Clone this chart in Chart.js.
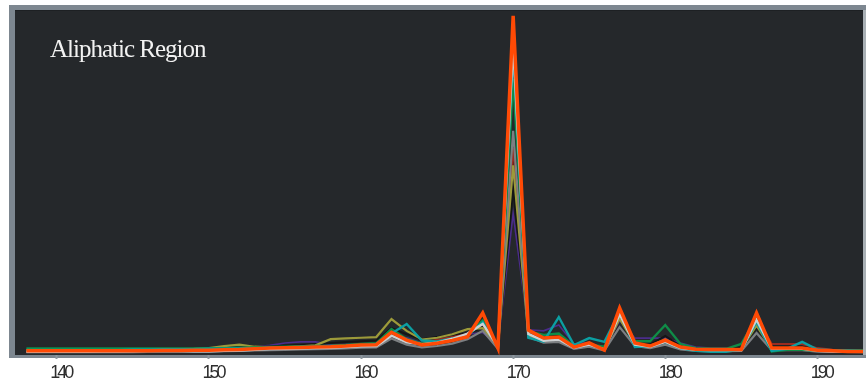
<!DOCTYPE html>
<html>
<head>
<meta charset="utf-8">
<script src="https://cdn.jsdelivr.net/npm/chart.js@4.4.1/dist/chart.umd.min.js"></script>
<style>
  html, body { margin: 0; padding: 0; background: #ffffff; }
  #wrap { width: 866px; height: 382px; position: relative; }
</style>
</head>
<body>
<div id="wrap"><canvas id="c" width="866" height="382"></canvas></div>
<script>
// x positions (ppm) of the sampled points
const shifts = [138,139,140,141,142,143,144,145,146,147,
                148,149,150,151,152,153,154,155,156,157,
                158,159,160,161,162,163,164,165,166,167,
                168,169,170,171,172,173,174,175,176,177,
                178,179,180,181,182,183,184,185,186,187,
                188,189,190,191,192,193];
const xTicks = [140, 150, 160, 170, 180, 190];
const regionLabel = "Aliphatic Region";

const seriesOrange = [1.2,1.2,1.2,1.2,1.2,1.2,1.2,1.2,1.2,1.3,
  1.3,1.4,1.4,1.5,1.6,1.8,2.0,2.1,2.2,2.3,
  2.4,2.6,2.9,3.0,6.6,4.3,2.9,3.4,4.2,5.3,
  12.2,2.0,98.3,7.2,4.9,5.2,2.3,3.5,1.4,13.6,
  3.5,2.6,4.3,2.3,1.7,1.6,1.6,1.6,12.2,2.0,
  2.0,2.0,1.4,1.2,1.0,1.0];
const seriesLightGray = [0.9,0.9,0.9,0.9,0.9,1.0,1.0,1.1,1.2,1.3,
  1.2,1.1,1.1,1.2,1.3,1.5,1.7,1.8,1.9,2.0,
  2.1,2.3,2.5,2.6,5.6,3.7,3.1,3.6,4.7,6.2,
  9.0,2.4,90.0,6.1,4.1,4.5,2.1,3.0,1.6,11.8,
  3.0,2.4,3.8,2.0,1.5,1.4,1.4,1.4,10.2,1.8,
  1.8,1.8,1.2,1.0,1.0,0.9];
const seriesTeal = [1.5,1.5,1.5,1.5,1.5,1.5,1.5,1.6,1.6,1.7,
  1.7,1.7,1.8,1.8,1.9,2.0,2.1,2.2,2.3,2.4,
  2.5,2.6,2.8,3.2,6.2,9.0,4.2,3.9,4.8,5.6,
  9.5,2.2,88.0,5.0,3.9,11.0,2.9,4.9,3.8,12.5,
  2.3,2.6,3.8,2.0,1.2,0.9,0.9,1.6,9.6,1.2,
  1.8,3.8,1.6,1.4,1.3,1.2];
const seriesGreen = [1.9,1.9,1.9,1.9,1.9,1.9,1.9,1.9,1.9,1.9,
  1.9,1.9,2.0,2.0,2.1,2.2,2.3,2.4,2.5,2.6,
  2.7,2.9,3.2,3.4,7.5,4.6,3.3,3.8,4.6,5.8,
  10.0,2.6,80.0,6.8,5.8,6.2,2.6,3.0,2.4,12.5,
  4.0,4.0,8.7,3.2,2.0,1.8,1.8,3.2,10.7,1.0,
  1.5,1.5,1.3,1.3,1.3,1.3];
const seriesOlive = [1.4,1.4,1.4,1.4,1.4,1.4,1.4,1.5,1.5,1.6,
  1.7,1.8,2.0,2.6,3.0,2.4,2.2,2.3,2.5,2.8,
  4.6,4.8,5.0,5.2,10.4,7.0,4.5,5.0,6.0,7.5,
  7.8,2.5,55.0,5.5,4.2,4.6,2.4,3.2,1.8,10.5,
  3.2,2.6,4.5,2.2,1.6,1.5,1.5,1.8,8.5,1.8,
  1.8,1.8,1.5,1.3,1.2,1.2];
const seriesPurple = [1.5,1.5,1.5,1.5,1.5,1.5,1.5,1.6,1.7,1.8,
  1.8,1.9,1.9,1.9,2.0,2.3,2.8,3.5,3.8,3.8,
  3.0,3.0,3.1,3.2,5.5,5.0,3.5,4.0,5.0,6.0,
  6.5,3.0,41.0,7.3,7.0,8.7,3.2,3.6,1.8,10.0,
  4.9,4.9,4.9,3.5,2.3,2.0,2.0,2.0,8.7,2.0,
  2.0,2.0,1.6,1.4,1.3,1.2];
const seriesDarkGray = [0.8,0.8,0.8,0.8,0.8,0.8,0.8,0.8,0.9,0.9,
  0.9,1.0,1.0,1.1,1.2,1.3,1.4,1.5,1.6,1.7,
  1.8,1.9,2.1,2.2,4.8,3.0,2.2,2.6,3.3,4.6,
  7.0,1.8,65.0,5.2,3.6,3.8,1.8,2.4,1.3,8.1,
  2.6,2.0,3.0,1.6,1.2,1.1,1.1,1.2,6.4,1.4,
  1.4,1.4,1.0,0.9,0.9,0.8];
const seriesBlack = [1.3,1.3,1.3,1.3,1.3,1.3,1.3,1.4,1.4,1.5,
  1.6,1.7,1.8,1.9,2.1,2.3,2.5,2.7,2.9,3.2,
  3.5,3.8,4.0,4.2,7.8,6.0,4.6,5.2,5.8,6.2,
  8.0,2.8,48.0,6.5,5.0,5.8,2.6,3.4,2.0,11.0,
  3.6,3.0,5.5,2.6,1.9,1.8,1.8,2.2,8.0,2.4,
  2.4,2.4,1.6,1.4,1.3,1.2];
const seriesDarkRed = [1.0,1.0,1.0,1.0,1.0,1.0,1.0,1.1,1.1,1.2,
  1.3,1.4,1.5,1.6,1.7,1.8,1.9,2.0,2.1,2.2,
  2.4,2.6,2.8,3.0,5.8,4.0,3.4,4.4,5.2,6.0,
  9.0,2.2,60.0,6.8,4.6,4.9,2.2,3.2,1.6,12.0,
  3.3,2.5,4.0,2.2,1.6,1.5,1.5,1.6,11.0,3.2,
  3.2,3.2,2.0,1.5,1.2,1.1];

function pts(arr) { return shifts.map((x, i) => ({ x: x, y: arr[i] })); }
function ds(arr, color, width) {
  return { data: pts(arr), borderColor: color, borderWidth: width, pointRadius: 0,
           tension: 0, fill: false, borderJoinStyle: 'miter' };
}

const framePlugin = {
  id: 'frame',
  beforeDraw(chart) {
    const ctx = chart.ctx;
    const a = chart.chartArea;
    ctx.save();
    ctx.fillStyle = '#ffffff';
    ctx.fillRect(0, 0, chart.width, chart.height);
    ctx.fillStyle = '#25282b';
    ctx.fillRect(a.left, a.top, a.right - a.left, a.bottom - a.top);
    ctx.fillStyle = '#7d8790';
    ctx.fillRect(9, 5, chart.width - 9, a.top - 5);      // top band
    ctx.fillRect(9, 5, a.left - 9, a.bottom + 3 - 5);    // left band
    ctx.fillRect(9, a.bottom, chart.width - 9, 3);       // bottom band
    ctx.fillStyle = '#1d2023';
    ctx.fillRect(a.left, a.top, a.right - a.left, 1);
    ctx.fillStyle = '#a9b0b5';
    ctx.fillRect(a.right, a.top, chart.width - a.right, a.bottom - a.top);
    ctx.restore();
    ctx.letterSpacing = '-3px';
  },
  afterDraw(chart) {
    const ctx = chart.ctx;
    ctx.save();
    ctx.letterSpacing = '-1px';
    ctx.fillStyle = '#f2f2f2';
    ctx.font = '25px "Liberation Serif", "Times New Roman", serif';
    ctx.textBaseline = 'alphabetic';
    ctx.textAlign = 'left';
    ctx.fillText(regionLabel, 50, 57);
    ctx.restore();
  }
};

new Chart(document.getElementById('c'), {
  type: 'line',
  data: {
    datasets: [
      ds(seriesOrange, '#ff4a05', 3.5),
      ds(seriesLightGray, '#cdd0d2', 2.4),
      ds(seriesTeal, '#0b9fa2', 2.4),
      ds(seriesGreen, '#0f8c47', 2.4),
      ds(seriesDarkGray, '#7c7f82', 2.2),
      ds(seriesOlive, '#9c9a3a', 2.2),
      ds(seriesDarkRed, '#9b2b1f', 2.0),
      ds(seriesBlack, '#141516', 2.0),
      ds(seriesPurple, '#4b2c8c', 1.6)
    ]
  },
  options: {
    responsive: false,
    animation: false,
    events: [],
    layout: { padding: { left: 15, right: 3, top: 10, bottom: 0 } },
    plugins: { legend: { display: false }, tooltip: { enabled: false }, title: { display: false } },
    scales: {
      x: {
        type: 'linear',
        min: 137.25,
        max: 193.0,
        afterBuildTicks: s => { s.ticks = xTicks.map(v => ({ value: v })); },
        afterFit: s => { s.height = 27; },
        border: { display: false },
        grid: { display: true, drawOnChartArea: false, drawTicks: true, tickLength: 4,
                tickWidth: 2, color: '#8e979e' },
        ticks: { color: '#2e2e2e', padding: 3, labelOffset: 4, maxRotation: 0,
                 font: { family: '"Liberation Sans", Arial, sans-serif', size: 18 } }
      },
      y: {
        display: false,
        min: 0,
        max: 100
      }
    }
  },
  plugins: [framePlugin]
});
</script>
</body>
</html>
